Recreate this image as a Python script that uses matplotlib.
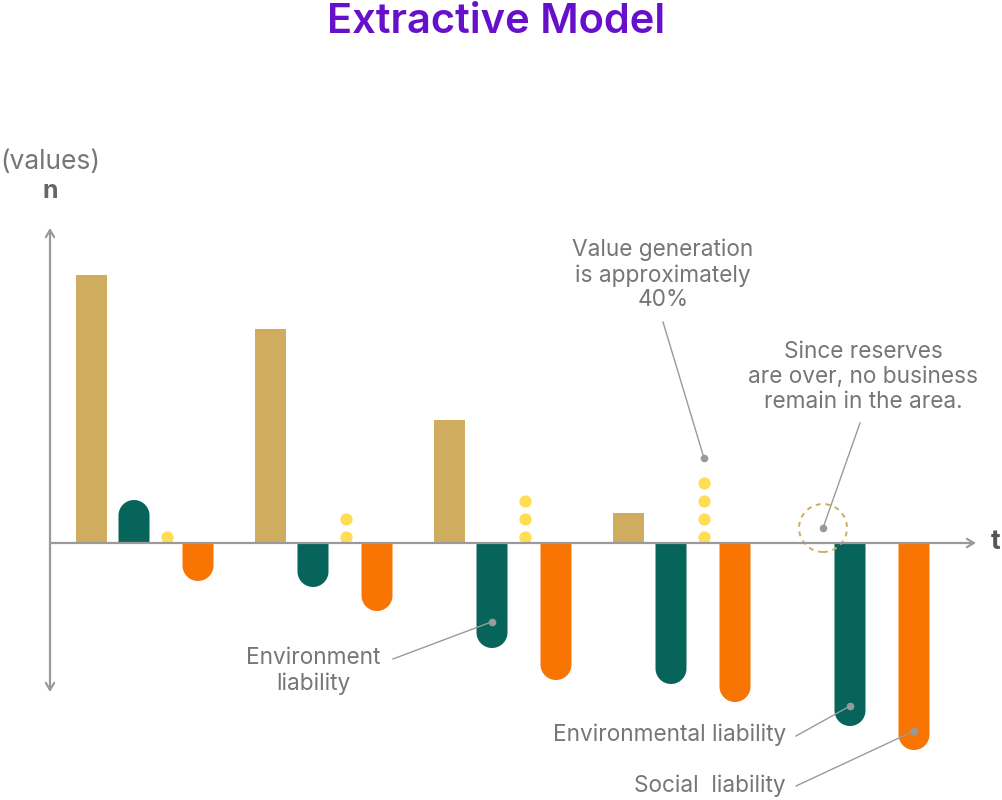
import numpy as np
import matplotlib
matplotlib.use("Agg")
import matplotlib.pyplot as plt
from matplotlib.patches import Ellipse

# data (heights in arbitrary value units, one entry per period)
periods = ["1", "2", "3", "4", "5"]
value_generation = [26.8, 21.4, 12.3, 3.0, 0.0]
environmental = [4.3, -4.4, -10.5, -14.1, -18.3]
social = [-3.8, -6.8, -13.7, -15.9, -20.7]
value_dots = [1, 2, 3, 4, 0]

GOLD, GREEN, ORANGE, YELLOW = "#D0AC5E", "#07645A", "#F97503", "#FFDD55"
AXIS, TEXT, PURPLE = "#9a9a9a", "#767676", "#6610CC"
plt.rcParams["font.family"] = ["Inter", "DejaVu Sans"]

W, H = 1003, 800
fig = plt.figure(figsize=(W / 100, H / 100), dpi=100)
ax = fig.add_axes([0, 0, 1, 1])
ax.axis("off")
# one period = 179 px, one value unit = 10 px
x0, sx, y0, sy = 92, 179.0, 543, 10.0
ax.set_xlim(-x0 / sx, (W - x0) / sx)
ax.set_ylim((y0 - H) / sy, y0 / sy)


def px(x, y):
    return (x - x0) / sx, (y0 - y) / sy


bw = 31 / sx          # bar width in x units
r = 15.5 / sy         # cap radius in y units
off_green, off_dot, off_orange = 42 / sx, 75 / sx, 106 / sx


def rounded_bar(x, v, color):
    s = 1 if v > 0 else -1
    c = v - s * r
    t = np.linspace(np.pi, 0, 40)
    xs = np.concatenate([[x - bw / 2], x + bw / 2 * np.cos(t), [x + bw / 2]])
    ys = np.concatenate([[0], c + s * r * np.sin(t), [0]])
    ax.fill(xs, ys, color=color, lw=0, zorder=2)


idx = range(len(periods))
ax.bar(list(idx), value_generation, width=bw, color=GOLD, lw=0, zorder=2)
for i in idx:
    rounded_bar(i + off_green, environmental[i], GREEN)
    rounded_bar(i + off_orange, social[i], ORANGE)
    ys = [0.6 + 1.8 * k for k in range(value_dots[i])]
    ax.scatter([i + off_dot] * len(ys), ys, s=78, color=YELLOW, lw=0, zorder=3)

# axes with arrows
ax.annotate("", xy=px(50, 228), xytext=px(50, 692),
            arrowprops=dict(arrowstyle="<->,head_length=0.5,head_width=0.3",
                            color=AXIS, lw=1.6, shrinkA=0, shrinkB=0))
ax.annotate("", xy=px(976, 543), xytext=px(50, 543),
            arrowprops=dict(arrowstyle="->,head_length=0.5,head_width=0.3",
                            color=AXIS, lw=1.6, shrinkA=0, shrinkB=0), zorder=4)
ax.text(*px(50, 162), "(values)", fontsize=19, color=TEXT, ha="center", va="center")
ax.text(*px(50, 191), "n", fontsize=18, color="#666666", weight="bold", ha="center", va="center")
ax.text(*px(996, 542), "t", fontsize=19, color="#555555", weight="bold", ha="center", va="center")

ax.text(*px(496, 22), "Extractive Model", fontsize=30, color=PURPLE, weight="semibold",
        ha="center", va="center")

# empty period marker
ax.add_patch(Ellipse(px(823, 528), 48 / sx, 48 / sy, fill=False, ec=GOLD,
                     lw=1.4, ls=(0, (2.5, 2.5)), zorder=3))


def leader(pt, txt_pt):
    ax.plot([txt_pt[0], pt[0]], [txt_pt[1], pt[1]], color=AXIS, lw=1, zorder=5)
    ax.scatter([pt[0]], [pt[1]], s=30, color=AXIS, lw=0, zorder=6)


fs = 16.3
ax.text(*px(663, 275), "Value generation\nis approximately\n40%", fontsize=fs, color=TEXT,
        ha="center", va="center", linespacing=1.15)
leader((3 + off_dot, 8.5), px(663, 322))

ax.text(*px(863, 377), "Since reserves\nare over, no business\nremain in the area.", fontsize=fs,
        color=TEXT, ha="center", va="center", linespacing=1.15)
leader(px(823, 528), px(860, 423))

ax.text(*px(313, 671), "Environment\nliability", fontsize=fs, color=TEXT,
        ha="center", va="center", linespacing=1.15)
leader((2 + off_green, environmental[2] * 0.75), px(393, 659))

ax.text(*px(786, 735), "Environmental liability", fontsize=fs, color=TEXT, ha="right", va="center")
leader((4 + off_green, environmental[4] + 2.0), px(796, 736))

ax.text(*px(786, 786), "Social  liability", fontsize=fs, color=TEXT, ha="right", va="center")
leader((4 + off_orange, social[4] + 1.9), px(796, 786))

fig.savefig("out.png", dpi=100, facecolor="white")
